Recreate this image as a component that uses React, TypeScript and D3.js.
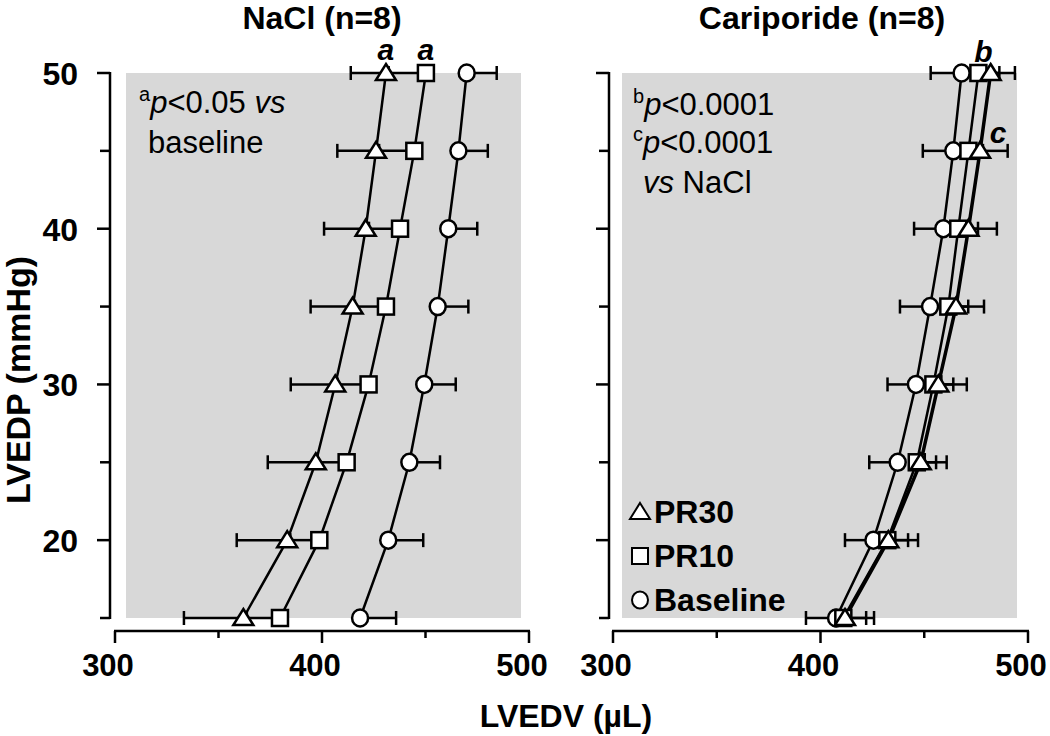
import React from 'react';
import * as d3 from 'd3';

const FONT = '"Liberation Sans", Arial, sans-serif';

const pressures = [50, 45, 40, 35, 30, 25, 20, 15];

// NaCl group
const naclPR30 = [430.9, 426.1, 421.1, 414.8, 406.4, 397.0, 383.2, 362.0];
const naclPR30Sem = [17.0, 18.7, 20.1, 20.3, 21.5, 23.2, 24.4, 28.7];
const naclPR10 = [450.2, 444.6, 437.7, 430.9, 422.5, 411.9, 398.7, 379.7];
const naclPR10Sem = [18, 17, 15, 15, 15, 14, 14, 16];
const naclBase = [469.9, 465.9, 461.0, 455.9, 449.4, 442.2, 432.0, 418.4];
const naclBaseSem = [14.5, 14.2, 14.0, 14.8, 15.2, 14.8, 16.9, 17.4];

// Cariporide group
const cariPR30 = [482.0, 476.9, 471.3, 465.3, 456.8, 448.3, 432.7, 411.8];
const cariPR30Sem = [11.7, 13.3, 13.7, 13.5, 13.7, 12.5, 14.3, 14.0];
const cariPR10 = [476.1, 471.3, 466.4, 461.6, 454.4, 446.4, 432.2, 411.0];
const cariPR10Sem = [10.1, 7, 9.5, 9.6, 9.6, 9.3, 10.0, 11.0];
const cariBase = [468.0, 464.0, 459.2, 452.8, 446.0, 437.2, 425.5, 407.5];
const cariBaseSem = [14.9, 14.7, 14.1, 14.5, 13.7, 13.7, 13.7, 14.5];

const xMajor = [300, 400, 500];
const xMinor = [350, 450];
const yMajor = [20, 30, 40, 50];
const yMinor = [15, 25, 35, 45];

const legendItems = [
  { name: 'PR30', shape: 'triangle' },
  { name: 'PR10', shape: 'square' },
  { name: 'Baseline', shape: 'circle' },
];

const y = d3.scaleLinear().domain([15, 50]).range([618, 73]);

function Marker({ shape, cx, cy, sw = 2.5 }: any) {
  if (shape === 'triangle') {
    return <path d={`M${cx},${cy - 9}L${cx + 10},${cy + 7}L${cx - 10},${cy + 7}Z`}
      fill="#fff" stroke="#000" strokeWidth={sw} strokeLinejoin="miter" />;
  }
  if (shape === 'square') {
    return <rect x={cx - 8} y={cy - 8} width={16} height={16} fill="#fff" stroke="#000" strokeWidth={sw} />;
  }
  return <ellipse cx={cx} cy={cy} rx={8} ry={8.5} fill="#fff" stroke="#000" strokeWidth={sw} />;
}

function Panel({ x0, x1, axisX, bg, series, showYLabels }: any) {
  const x = d3.scaleLinear().domain([300, 500]).range([x0, x1]);
  const line = d3.line<number>().x(d => x(d)).y((_, i) => y(pressures[i]));
  const axisY = 631;
  return (
    <g>
      <rect x={bg[0]} y={73} width={bg[1] - bg[0]} height={545} fill="#d8d8d8" />
      {/* y axis */}
      <line x1={axisX} x2={axisX} y1={y(50) - 1} y2={y(15) + 1} stroke="#000" strokeWidth={2.5} />
      {yMajor.map(t => (
        <line key={'ym' + t} x1={axisX - 13} x2={axisX} y1={y(t)} y2={y(t)} stroke="#000" strokeWidth={2.5} />
      ))}
      {yMinor.map(t => (
        <line key={'yn' + t} x1={axisX - 10} x2={axisX} y1={y(t)} y2={y(t)} stroke="#000" strokeWidth={2.5} />
      ))}
      {showYLabels && yMajor.map(t => (
        <text key={'yl' + t} x={axisX - 32} y={y(t) + 12} textAnchor="end" fontFamily={FONT}
          fontWeight="bold" fontSize={32}>{t}</text>
      ))}
      {/* x axis */}
      <line x1={x(300) - 1} x2={x(500) + 1} y1={axisY} y2={axisY} stroke="#000" strokeWidth={2.5} />
      {xMajor.map(t => (
        <line key={'xm' + t} x1={x(t)} x2={x(t)} y1={axisY} y2={axisY + 12} stroke="#000" strokeWidth={2.5} />
      ))}
      {xMinor.map(t => (
        <line key={'xn' + t} x1={x(t)} x2={x(t)} y1={axisY} y2={axisY + 7} stroke="#000" strokeWidth={2.5} />
      ))}
      {xMajor.map(t => (
        <text key={'xl' + t} x={x(t) - 7} y={676} textAnchor="middle" fontFamily={FONT}
          fontWeight="bold" fontSize={31}>{t}</text>
      ))}
      {/* lines */}
      {series.map((s: any) => (
        <path key={'l' + s.shape} d={line(s.values) as string} fill="none" stroke="#000" strokeWidth={s.lw || 2.5} />
      ))}
      {/* error bars */}
      {series.map((s: any) => s.values.map((v: number, i: number) => {
        const end = s.dir === 'left' ? v - s.sem[i] : v + s.sem[i];
        const cy = y(pressures[i]);
        return (
          <g key={'e' + s.shape + i}>
            <line x1={x(v)} x2={x(end)} y1={cy} y2={cy} stroke="#000" strokeWidth={2.5} />
            <line x1={x(end)} x2={x(end)} y1={cy - 7} y2={cy + 7} stroke="#000" strokeWidth={2.5} />
          </g>
        );
      }))}
      {/* markers */}
      {series.map((s: any) => s.values.map((v: number, i: number) => (
        <Marker key={'m' + s.shape + i} shape={s.shape} cx={x(v)} cy={y(pressures[i])} />
      )))}
    </g>
  );
}

export default function App() {
  const leftSeries = [
    { shape: 'circle', values: naclBase, sem: naclBaseSem, dir: 'right' },
    { shape: 'square', values: naclPR10, sem: naclPR10Sem, dir: 'left' },
    { shape: 'triangle', values: naclPR30, sem: naclPR30Sem, dir: 'left' },
  ];
  const rightSeries = [
    { shape: 'circle', values: cariBase, sem: cariBaseSem, dir: 'left' },
    { shape: 'square', values: cariPR10, sem: cariPR10Sem, dir: 'right' },
    { shape: 'triangle', values: cariPR30, sem: cariPR30Sem, dir: 'right', lw: 3.5 },
  ];
  const xl = d3.scaleLinear().domain([300, 500]).range([115, 529]);
  const xr = d3.scaleLinear().domain([300, 500]).range([613, 1028]);
  return (
    <svg width={1050} height={736} style={{ position: 'absolute', left: 0, top: 0, background: '#fff' }}>
      <Panel x0={115} x1={529} axisX={110} bg={[126, 521]} series={leftSeries} showYLabels />
      <Panel x0={613} x1={1028} axisX={609} bg={[622, 1017]} series={rightSeries} showYLabels={false} />

      {/* titles */}
      <text x={322} y={29} textAnchor="middle" fontFamily={FONT} fontWeight="bold" fontSize={32}>NaCl (n=8)</text>
      <text x={822} y={29} textAnchor="middle" fontFamily={FONT} fontWeight="bold" fontSize={32}>Cariporide (n=8)</text>

      {/* axis titles */}
      <text x={566} y={727} textAnchor="middle" fontFamily={FONT} fontWeight="bold" fontSize={32}>LVEDV (µL)</text>
      <text transform="translate(30,380) rotate(-90)" textAnchor="middle" fontFamily={FONT} fontWeight="bold"
        fontSize={34}>LVEDP (mmHg)</text>

      {/* significance letters */}
      <text x={xl(naclPR30[0])} y={60} textAnchor="middle" fontFamily={FONT} fontWeight="bold" fontStyle="italic" fontSize={30}>a</text>
      <text x={xl(naclPR10[0])} y={60} textAnchor="middle" fontFamily={FONT} fontWeight="bold" fontStyle="italic" fontSize={30}>a</text>
      <text x={xr(cariPR10[0]) + 5} y={62} textAnchor="middle" fontFamily={FONT} fontWeight="bold" fontStyle="italic" fontSize={30}>b</text>
      <text x={xr(cariPR30[1]) + 18} y={143} textAnchor="middle" fontFamily={FONT} fontWeight="bold" fontStyle="italic" fontSize={30}>c</text>

      {/* p-value notes */}
      <text x={139} y={113} fontFamily={FONT} fontSize={31}>
        <tspan fontSize={20} dy={-12}>a</tspan><tspan dy={12} fontStyle="italic">p</tspan>&lt;0.05 <tspan fontStyle="italic">vs</tspan>
      </text>
      <text x={148} y={153} fontFamily={FONT} fontSize={31}>baseline</text>
      <text x={633} y={115} fontFamily={FONT} fontSize={31}>
        <tspan fontSize={20} dy={-12}>b</tspan><tspan dy={12} fontStyle="italic">p</tspan>&lt;0.0001
      </text>
      <text x={633} y={153} fontFamily={FONT} fontSize={31}>
        <tspan fontSize={20} dy={-12}>c</tspan><tspan dy={12} fontStyle="italic">p</tspan>&lt;0.0001
      </text>
      <text x={643} y={193} fontFamily={FONT} fontSize={31}>
        <tspan fontStyle="italic">vs</tspan> NaCl
      </text>

      {/* legend */}
      {legendItems.map((it, i) => {
        const cy = 512 + i * 44;
        return (
          <g key={it.name}>
            <Marker shape={it.shape} cx={640} cy={cy} sw={2} />
            <text x={654} y={cy + 11} fontFamily={FONT} fontWeight="bold" fontSize={32}>{it.name}</text>
          </g>
        );
      })}
    </svg>
  );
}
